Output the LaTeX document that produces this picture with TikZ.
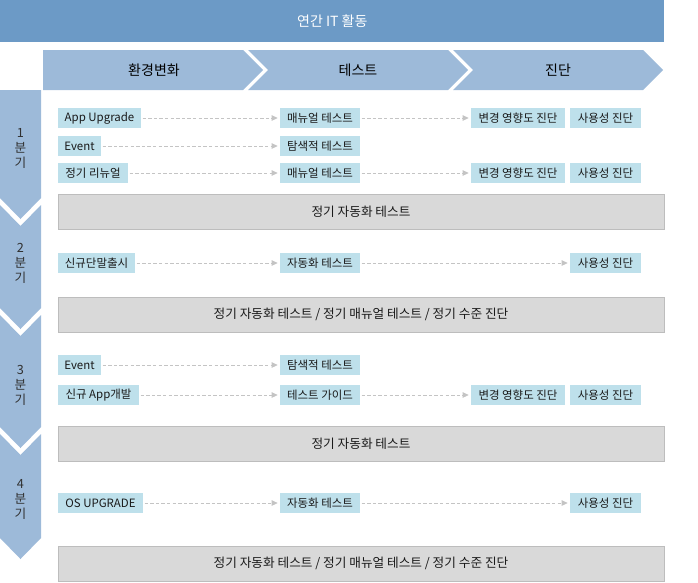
\documentclass[tikz,border=0pt]{standalone}
\usepackage{fontspec}
\setmainfont{Noto Sans CJK KR}
\usetikzlibrary{arrows.meta}
\definecolor{titleblue}{HTML}{6C9AC6}
\definecolor{headblue}{HTML}{9DBAD9}
\definecolor{boxblue}{HTML}{BEE0EB}
\definecolor{graybox}{HTML}{D9D9D9}
\definecolor{grayline}{HTML}{BDBDBD}
\definecolor{arrowgray}{HTML}{C4C4C4}
\definecolor{txt}{HTML}{1A1A1A}
\tikzset{
  wh/.style 2 args={minimum width=#1*0.75pt, minimum height=#2*0.75pt},
  lb/.style={fill=boxblue, inner sep=0pt, outer sep=0pt, anchor=north west,
    text=txt, font=\fontsize{8.6}{10}\selectfont},
  gb/.style={fill=graybox, draw=grayline, line width=0.75pt, inner sep=0pt,
    outer sep=0pt, anchor=north west, text=txt, font=\fontsize{9.5}{11}\selectfont},
  chev/.style={fill=headblue},
  headtxt/.style={text=black, font=\fontsize{10.5}{12}\selectfont},
  qtxt/.style={text=txt!90!white, align=center, font=\fontsize{9.5}{11.25}\selectfont},
  conn/.style={draw=arrowgray, line width=0.6pt, dash pattern=on 2.6pt off 1.6pt,
    -{Triangle[length=4.5pt,width=4.2pt,fill=arrowgray]},
    shorten <=1.2pt, shorten >=1.8pt}
}
\begin{document}
\begin{tikzpicture}[x=0.75pt,y=-0.75pt]
\useasboundingbox (0,0) rectangle (698,582);
% title
\node[fill=titleblue, inner sep=0pt, anchor=north west, wh={664}{42}, text=white,
  font=\fontsize{10.5}{12}\selectfont] (title) at (0,0) {연간 IT 활동};
% header chevrons
\fill[chev] (43,50) -- (243,50) -- (263,70) -- (243,90) -- (43,90) -- cycle;
\fill[chev] (248,50) -- (448,50) -- (468,70) -- (448,90) -- (248,90) -- (268,70) -- cycle;
\fill[chev] (453,50) -- (643,50) -- (663,70) -- (643,90) -- (453,90) -- (473,70) -- cycle;
\node[headtxt] (h1) at (154,70) {환경변화};
\node[headtxt] (h2) at (358,70) {테스트};
\node[headtxt] (h3) at (558,70) {진단};
% quarter chevrons
\fill[chev] (0,90) -- (41,90) -- (41,198) -- (20.5,219) -- (0,198) -- cycle;
\fill[chev] (0,205) -- (20.5,226) -- (41,205) -- (41,308) -- (20.5,329) -- (0,308) -- cycle;
\fill[chev] (0,315) -- (20.5,336) -- (41,315) -- (41,427) -- (20.5,448) -- (0,427) -- cycle;
\fill[chev] (0,434) -- (20.5,455) -- (41,434) -- (41,538) -- (20.5,559) -- (0,538) -- cycle;
\node[qtxt] (q1) at (20.5,148) {1\\분\\기};
\node[qtxt] (q2) at (20.5,263) {2\\분\\기};
\node[qtxt] (q3) at (20.5,385) {3\\분\\기};
\node[qtxt] (q4) at (20.5,499) {4\\분\\기};
% Q1
\node[lb, wh={83}{20}] (a1) at (58,108) {App Upgrade};
\node[lb, wh={80}{20}] (a2) at (280,108) {매뉴얼 테스트};
\node[lb, wh={94}{20}] (a3) at (471,108) {변경 영향도 진단};
\node[lb, wh={71}{20}] (a4) at (570,108) {사용성 진단};
\node[lb, wh={43}{20}] (b1) at (58,136) {Event};
\node[lb, wh={80}{20}] (b2) at (280,136) {탐색적 테스트};
\node[lb, wh={70}{20}] (c1) at (58,163) {정기 리뉴얼};
\node[lb, wh={80}{20}] (c2) at (280,163) {매뉴얼 테스트};
\node[lb, wh={94}{20}] (c3) at (471,163) {변경 영향도 진단};
\node[lb, wh={71}{20}] (c4) at (570,163) {사용성 진단};
\node[gb, wh={606}{35}] (g1) at (58,194) {정기 자동화 테스트};
% Q2
\node[lb, wh={77}{20}] (d1) at (58,253) {신규단말출시};
\node[lb, wh={80}{20}] (d2) at (280,253) {자동화 테스트};
\node[lb, wh={71}{20}] (d3) at (570,253) {사용성 진단};
\node[gb, wh={606}{35}] (g2) at (58,297) {정기 자동화 테스트 / 정기 매뉴얼 테스트 / 정기 수준 진단};
% Q3
\node[lb, wh={43}{20}] (e1) at (58,355) {Event};
\node[lb, wh={80}{20}] (e2) at (280,355) {탐색적 테스트};
\node[lb, wh={81}{20}] (f1) at (58,385) {신규 App개발};
\node[lb, wh={80}{20}] (f2) at (280,385) {테스트 가이드};
\node[lb, wh={94}{20}] (f3) at (471,385) {변경 영향도 진단};
\node[lb, wh={71}{20}] (f4) at (570,385) {사용성 진단};
\node[gb, wh={606}{35}] (g3) at (58,426) {정기 자동화 테스트};
% Q4
\node[lb, wh={85}{20}] (k1) at (58,493) {OS UPGRADE};
\node[lb, wh={80}{20}] (k2) at (280,493) {자동화 테스트};
\node[lb, wh={71}{20}] (k3) at (570,493) {사용성 진단};
\node[gb, wh={606}{35}] (g4) at (58,546) {정기 자동화 테스트 / 정기 매뉴얼 테스트 / 정기 수준 진단};
% connectors
\draw[conn] (a1) -- (a2);
\draw[conn] (a2) -- (a3);
\draw[conn] (b1) -- (b2);
\draw[conn] (c1) -- (c2);
\draw[conn] (c2) -- (c3);
\draw[conn] (d1) -- (d2);
\draw[conn] (d2) -- (d3);
\draw[conn] (e1) -- (e2);
\draw[conn] (f1) -- (f2);
\draw[conn] (f2) -- (f3);
\draw[conn] (k1) -- (k2);
\draw[conn] (k2) -- (k3);
\end{tikzpicture}
\end{document}
